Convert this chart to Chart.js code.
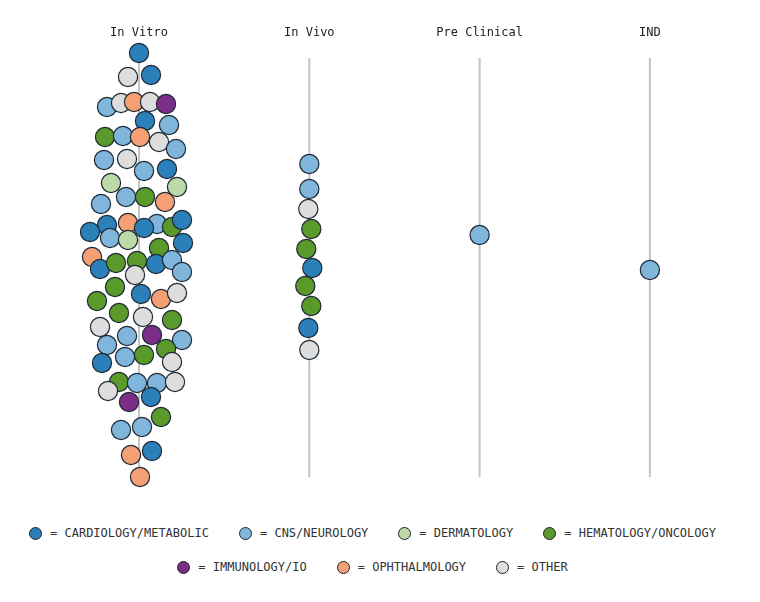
<!DOCTYPE html>
<html>
<head>
<meta charset="utf-8">
<script src="https://cdn.jsdelivr.net/npm/chart.js@4"></script>
<style>
  body { margin: 0; background: #fff; }
  #wrap { position: relative; width: 760px; height: 602px; }
  #legend { position: absolute; left: 0; top: 524px; width: 745px; font: 12px "DejaVu Sans Mono", monospace; color: #333; }
  .row { display: flex; justify-content: center; height: 18px; align-items: center; margin-bottom: 16px; }
  .item { display: flex; align-items: center; margin: 0 15px; }
  .dot { width: 11px; height: 11px; border-radius: 50%; border: 1px solid #222; margin-right: 8px; }
</style>
</head>
<body>
<div id="wrap">
  <canvas id="swarm" width="760" height="500"></canvas>
  <div id="legend"></div>
</div>
<script>
const stages = ['In Vitro', 'In Vivo', 'Pre Clinical', 'IND'];
const areaCodes = ['C', 'N', 'D', 'H', 'I', 'O', 'X'];
const areaNames = ['CARDIOLOGY/METABOLIC', 'CNS/NEUROLOGY', 'DERMATOLOGY', 'HEMATOLOGY/ONCOLOGY', 'IMMUNOLOGY/IO', 'OPHTHALMOLOGY', 'OTHER'];
const areaColors = ['#2b80b9', '#80b6db', '#bcdaa8', '#5a9a2a', '#7b2e87', '#f4a074', '#dddddd'];

// swarm data per stage: area code, sideways jitter, depth in the column
const vitroArea = ['C','X','C','N','X','O','X','I','C','N',
                   'H','N','O','X','N','N','X','N','C','D',
                   'D','N','N','H','O','C','O','C','N','H',
                   'C','C','N','D','C','O','H','C','H','H',
                   'C','N','N','X','H','C','O','X','H','H',
                   'X','H','X','N','I','N','N','H','C','N',
                   'H','X','H','X','N','N','X','I','C','H',
                   'N','N','O','C','O'];
const vitroJitter = [0,-11,12,-32,-18,-5,11,27,6,30,
                     -34,-16,1,20,37,-35,-12,5,28,-28,
                     38,-38,-13,6,26,-32,-11,-49,18,33,
                     43,5,-29,-11,44,-47,20,-39,-23,-2,
                     17,33,43,-4,-24,2,22,38,-42,-20,
                     4,33,-39,-12,13,43,-32,27,-37,-14,
                     5,33,-20,-31,-2,18,36,-10,12,22,
                     -18,3,-8,13,1];
const vitroDepth = [53,77,75,107,103,102,102,104,121,125,
                    137,136,137,142,149,160,159,171,169,183,
                    187,204,197,197,202,225,223,232,224,227,
                    220,228,238,240,243,257,248,269,263,261,
                    264,260,272,275,287,294,299,293,301,313,
                    317,320,327,336,335,340,345,349,363,357,
                    355,362,382,391,383,383,382,402,397,417,
                    430,427,455,451,477];

const vivoArea = ['N','N','X','H','H','C','H','H','C','X'];
const vivoJitter = [0,0,-1,2,-3,3,-4,2,-1,0];
const vivoDepth = [164,189,209,229,249,268,286,306,328,350];

const preArea = ['N'];
const preJitter = [0];
const preDepth = [235];

const indArea = ['N'];
const indJitter = [0];
const indDepth = [270];

const stemTop = 58;
const stemBottom = 477;

const jitterUnit = 170.3; // jitter units per column
const swarms = [
  [vitroArea, vitroJitter, vitroDepth],
  [vivoArea, vivoJitter, vivoDepth],
  [preArea, preJitter, preDepth],
  [indArea, indJitter, indDepth]
];

const datasets = [];
swarms.forEach(([area, jit, depth], s) => {
  datasets.push({
    type: 'scatter',
    order: 0,
    data: depth.map((d, i) => ({ x: s + jit[i] / jitterUnit, y: d })),
    backgroundColor: area.map(a => areaColors[areaCodes.indexOf(a)]),
    borderColor: '#1e2a36',
    borderWidth: 1.2,
    pointRadius: 9.6,
    pointHoverRadius: 9.6
  });
  datasets.push({
    type: 'line',
    order: 10,
    data: [{ x: s, y: stemTop }, { x: s, y: stemBottom }],
    borderColor: '#c4c4c4',
    borderWidth: 2,
    pointRadius: 0
  });
});

const stageLabels = {
  id: 'stageLabels',
  afterDraw(chart) {
    const ctx = chart.ctx;
    const x = chart.scales.x;
    ctx.save();
    ctx.font = '12px "DejaVu Sans Mono", monospace';
    ctx.fillStyle = '#222';
    ctx.textAlign = 'center';
    ctx.textBaseline = 'middle';
    stages.forEach((name, i) => ctx.fillText(name, x.getPixelForValue(i), 33));
    ctx.restore();
  }
};

new Chart(document.getElementById('swarm'), {
  data: { datasets },
  options: {
    responsive: false,
    animation: false,
    layout: { padding: 0, autoPadding: false },
    plugins: { legend: { display: false }, tooltip: { enabled: false } },
    scales: {
      x: { type: 'linear', display: false, min: -139 / jitterUnit, max: (760 - 139) / jitterUnit },
      y: { type: 'linear', display: false, min: 0, max: 500, reverse: true }
    }
  },
  plugins: [stageLabels]
});

// html legend in two rows
const legendRows = [[0, 1, 2, 3], [4, 5, 6]];
const legendEl = document.getElementById('legend');
legendRows.forEach(row => {
  const r = document.createElement('div');
  r.className = 'row';
  row.forEach(i => {
    const it = document.createElement('div');
    it.className = 'item';
    const dot = document.createElement('span');
    dot.className = 'dot';
    dot.style.background = areaColors[i];
    const txt = document.createElement('span');
    txt.textContent = '= ' + areaNames[i];
    it.appendChild(dot);
    it.appendChild(txt);
    r.appendChild(it);
  });
  legendEl.appendChild(r);
});
</script>
</body>
</html>
